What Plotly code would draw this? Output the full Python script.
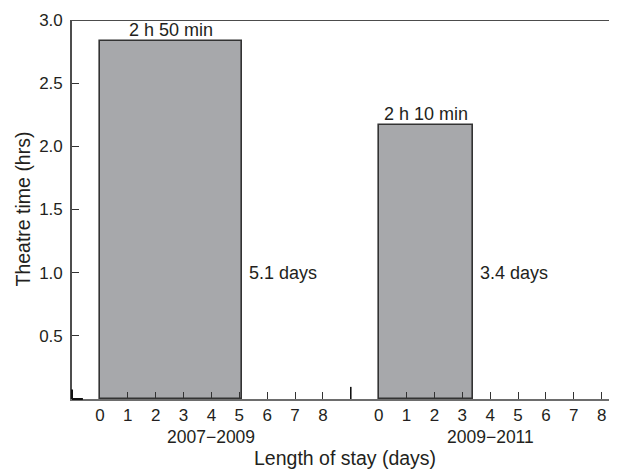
import plotly.graph_objects as go

# ---- data ----
periods = ["2007−2009", "2009−2011"]
length_of_stay = [5.1, 3.4]          # days
theatre_time = [2.833, 2.167]        # hours
time_labels = ["2 h 50 min", "2 h 10 min"]
stay_labels = ["5.1 days", "3.4 days"]
segment_offsets = [0, 10]            # x offset of each period's day scale
day_ticks = [0, 1, 2, 3, 4, 5, 6, 7, 8]
y_ticks = [0.5, 1.0, 1.5, 2.0, 2.5, 3.0]

FONT = "Liberation Sans, Arial, Helvetica, sans-serif"
TXT = "#231f20"
FS_TICK = 17
FS_ANN = 18
FS_TITLE = 19.5

centers = [off + w / 2 for off, w in zip(segment_offsets, length_of_stay)]

fig = go.Figure()
fig.add_trace(go.Bar(
    x=centers, y=theatre_time, width=length_of_stay, base=0,
    marker=dict(color="#a7a8ab", line=dict(color="#333333", width=1.6)),
    hoverinfo="skip", showlegend=False,
))

tickvals = [off + d for off in segment_offsets for d in day_ticks]
ticktext = [str(d) for off in segment_offsets for d in day_ticks]

# page body has an 8px margin, so the figure is sized to fill the rest of the window
fig.update_layout(
    width=609, height=463,
    margin=dict(l=64, r=0, t=12, b=72),
    plot_bgcolor="white", paper_bgcolor="white",
    font=dict(family=FONT, size=FS_TICK, color=TXT),
    xaxis=dict(
        range=[-1.0, 18.55], tickvals=tickvals, ticktext=ticktext,
        ticks="inside", ticklen=7, tickwidth=1.3, tickcolor="#333333",
        showline=True, linecolor="#6d6d6d", linewidth=1.8,
        showgrid=False, zeroline=False, tickfont=dict(size=FS_TICK),
    ),
    yaxis=dict(
        range=[0, 3.0], tickvals=y_ticks, tickformat=".1f",
        ticks="inside", ticklen=7, tickwidth=1.3, tickcolor="#333333",
        showline=True, linecolor="#4d4d4d", linewidth=1.6,
        showgrid=False, zeroline=False, tickfont=dict(size=FS_TICK),
        ticklabelstandoff=4,
    ),
    bargap=0,
)

# top border line
fig.add_shape(type="line", xref="paper", yref="y", x0=0, x1=1, y0=3.0, y1=3.0,
              line=dict(color="#111111", width=1.6))
# axis break tick between periods
fig.add_shape(type="line", xref="x", yref="paper", x0=9, x1=9, y0=0, y1=0.032,
              line=dict(color="#111111", width=1.6))
# short dark segment at origin
fig.add_shape(type="line", xref="paper", yref="paper", x0=0, x1=0.02, y0=0, y1=0,
              line=dict(color="#111111", width=2))
fig.add_shape(type="line", xref="paper", yref="paper", x0=0, x1=0, y0=0, y1=0.025,
              line=dict(color="#111111", width=2))

for i in range(len(periods)):
    fig.add_annotation(x=centers[i], y=theatre_time[i], text=time_labels[i],
                       showarrow=False, yanchor="bottom", yshift=-1,
                       font=dict(size=FS_ANN, color=TXT))
    fig.add_annotation(x=segment_offsets[i] + length_of_stay[i], y=1.0,
                       text=stay_labels[i], showarrow=False,
                       xanchor="left", yanchor="middle", xshift=5,
                       font=dict(size=FS_ANN, color=TXT))
    fig.add_annotation(x=segment_offsets[i] + 4, y=0, xref="x", yref="paper",
                       text=periods[i], showarrow=False, yanchor="middle",
                       yshift=-38, font=dict(size=FS_TICK + 0.5, color=TXT))

fig.add_annotation(x=0.5, y=0, xref="paper", yref="paper",
                   text="Length of stay (days)", showarrow=False,
                   yanchor="middle", yshift=-59, font=dict(size=FS_TITLE, color=TXT))
fig.add_annotation(x=0, y=0.5, xref="paper", yref="paper",
                   text="Theatre time (hrs)", showarrow=False, textangle=-90,
                   xanchor="center", xshift=-50, font=dict(size=FS_TITLE, color=TXT))

fig.write_html("out.html")
